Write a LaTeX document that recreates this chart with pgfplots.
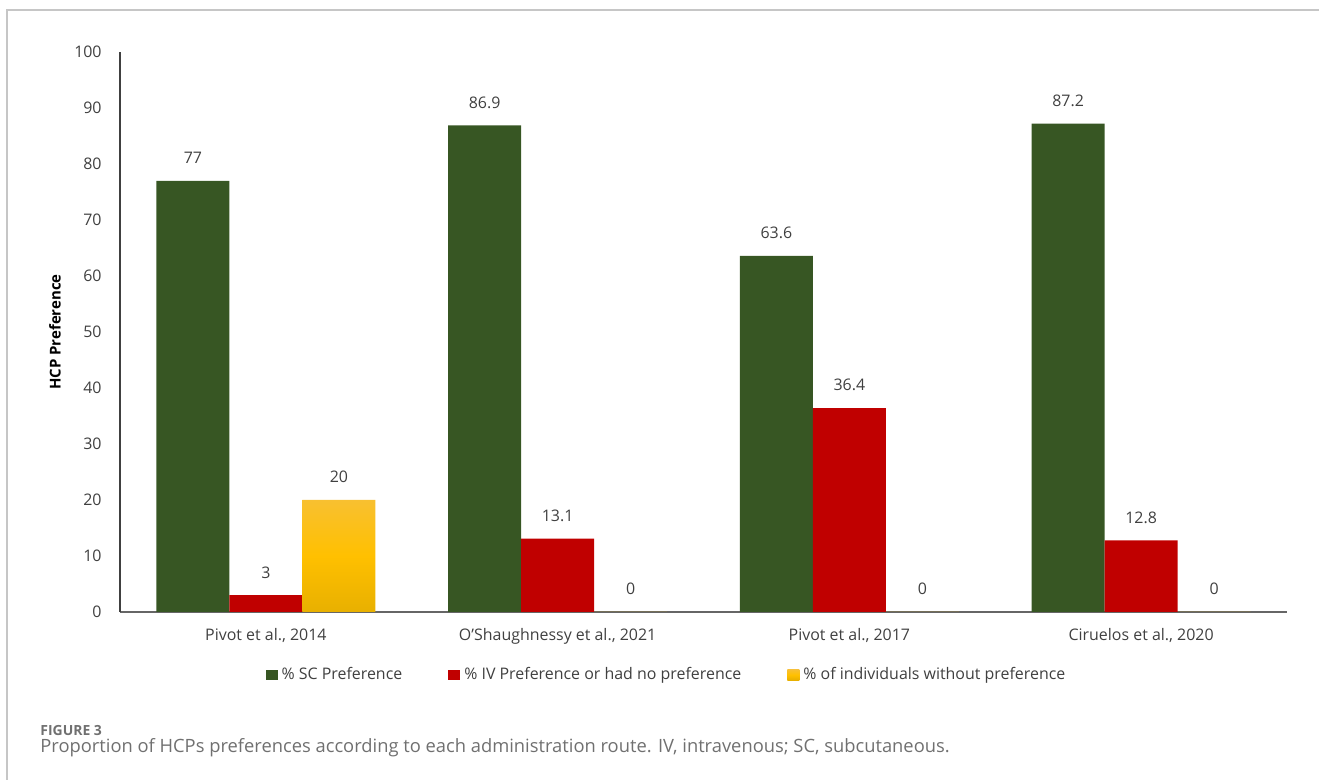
\documentclass[border=0pt]{standalone}
\usepackage{fontspec}
\setmainfont{Open Sans}
\usepackage{pgfplots}
\pgfplotsset{compat=1.18}
\definecolor{cgreen}{HTML}{375623}
\definecolor{cred}{HTML}{C00000}
\definecolor{cyel}{HTML}{FFC000}
\definecolor{cyeltop}{HTML}{F8C030}
\definecolor{cyelbot}{HTML}{E8B000}
\definecolor{txt}{HTML}{404040}
\definecolor{cap}{HTML}{707070}
\begin{document}
\begin{tikzpicture}
\useasboundingbox (0,0) rectangle (659.5bp,390bp);
\draw[gray!45, line width=0.8bp] (3.5bp,0) -- (3.5bp,385bp) -- (659.5bp,385bp);
\begin{axis}[
  at={(60bp,84bp)}, anchor=south west,
  scale only axis, width=583.5bp, height=280bp,
  xmin=-0.5, xmax=3.5, ymin=0, ymax=100,
  ybar=0pt, bar width=36.5bp,
  xtick={0,1,2,3},
  xticklabels={{Pivot et al., 2014},{O'Shaughnessy et al., 2021},{Pivot et al., 2017},{Ciruelos et al., 2020}},
  ytick={0,10,...,100},
  axis lines*=left,
  x axis line style={draw=black!60, line width=0.8bp},
  y axis line style={draw=black!75, line width=0.8bp},
  major tick length=0pt,
  tick label style={font=\fontsize{8}{9}\selectfont, text=txt},
  /pgf/number format/assume math mode=true,
  yticklabel style={inner sep=0pt, xshift=-9bp, anchor=east},
  xticklabel style={inner sep=0pt, yshift=-8bp, anchor=north},
  ylabel={HCP Preference},
  ylabel style={at={(axis description cs:-0.0557,0.5)}, anchor=center, font=\bfseries\fontsize{7.5}{9}\selectfont, text=black},
  nodes near coords,
  nodes near coords style={font=\fontsize{8}{9}\selectfont, text=txt, anchor=south, yshift=5bp},
  clip=false,
  legend columns=3,
  legend style={at={(axis description cs:0.4674,-0.1125)}, anchor=center, draw=none, font=\fontsize{8}{9}\selectfont, text=txt,
    inner xsep=0pt, nodes={inner xsep=0pt},
    /tikz/every odd column/.append style={column sep=2bp},
    /tikz/every even column/.append style={column sep=23bp}},
  legend image code/.code={\fill[#1,draw=none] (0bp,-2.5bp) rectangle (6bp,2.5bp);},
]
\addplot[fill=cgreen, draw=none] coordinates {(0,77) (1,86.9) (2,63.6) (3,87.2)};
\addplot[fill=cred, draw=none] coordinates {(0,3) (1,13.1) (2,36.4) (3,12.8)};
\addplot[top color=cyeltop, bottom color=cyelbot, middle color=cyel, draw=none] coordinates {(0,20) (1,0) (2,0) (3,0)};
\legend{\% SC Preference, \% IV Preference or had no preference, \% of individuals without preference}
\end{axis}
\node[anchor=base west, inner sep=0pt, text=cap, font=\bfseries\fontsize{7}{8}\selectfont] at (20bp,22.5bp) {FIGURE 3};
\node[anchor=base west, inner sep=0pt, text=cap, font=\fontsize{9.2}{10}\selectfont] at (20bp,14bp) {Proportion of HCPs preferences according to each administration route. IV, intravenous; SC, subcutaneous.};
\end{tikzpicture}
\end{document}
